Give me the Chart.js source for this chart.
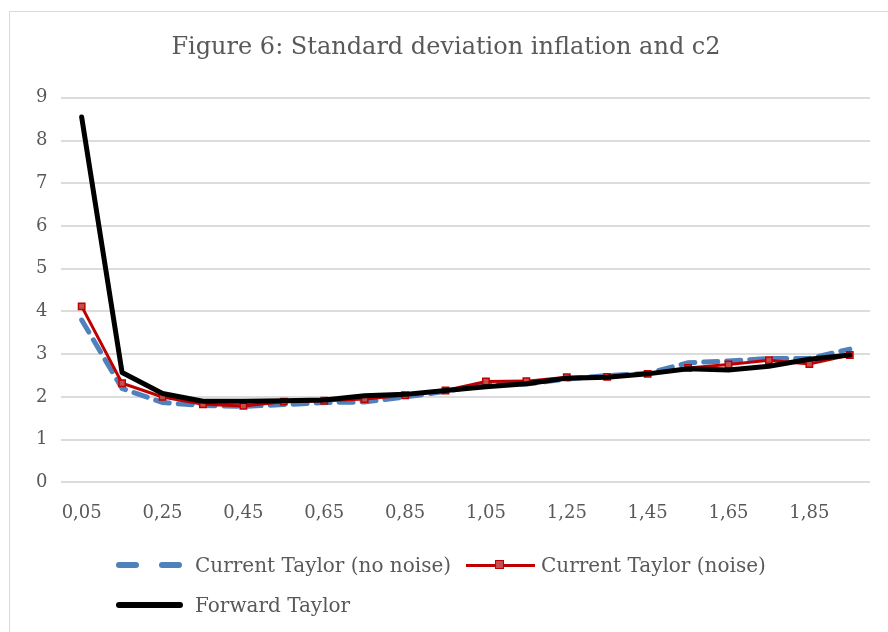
<!DOCTYPE html>
<html>
<head>
<meta charset="utf-8">
<script src="https://cdn.jsdelivr.net/npm/chart.js@4.4.1/dist/chart.umd.min.js"></script>
<style>
  html, body { margin: 0; padding: 0; background: #fff; overflow: hidden; }
  #wrap { position: relative; width: 888px; height: 632px; }
  #frame { position: absolute; left: 9px; top: 11px; width: 920px; height: 700px; border: 1px solid #d9d9d9; box-sizing: border-box; }
  #myChart { position: absolute; left: 0; top: 0; }
  .leg { position: absolute; font-family: "DejaVu Serif", serif; font-size: 20px; color: #595959; line-height: 24px; white-space: nowrap; }
  .sw { position: absolute; }
</style>
</head>
<body>
<div id="wrap">
  <div id="frame"></div>
  <canvas id="myChart" width="888" height="632"></canvas>
  <div id="legend"></div>
</div>
<script>
const categories = ['0,05','0,15','0,25','0,35','0,45','0,55','0,65','0,75','0,85','0,95',
                    '1,05','1,15','1,25','1,35','1,45','1,55','1,65','1,75','1,85','1,95'];
const noNoise = [3.80, 2.20, 1.87, 1.80, 1.78, 1.82, 1.87, 1.88, 2.00, 2.13,
                 2.30, 2.30, 2.42, 2.50, 2.55, 2.80, 2.84, 2.90, 2.90, 3.12];
const noise   = [4.12, 2.32, 2.00, 1.83, 1.79, 1.89, 1.91, 1.95, 2.04, 2.15,
                 2.36, 2.37, 2.46, 2.47, 2.54, 2.68, 2.76, 2.86, 2.77, 2.98];
const forward = [8.55, 2.57, 2.08, 1.90, 1.90, 1.91, 1.93, 2.03, 2.06, 2.15,
                 2.24, 2.31, 2.44, 2.46, 2.54, 2.66, 2.63, 2.72, 2.88, 2.98];
const seriesNames = ['Current Taylor (no noise)', 'Current Taylor (noise)', 'Forward Taylor'];
const yTicks = [0, 1, 2, 3, 4, 5, 6, 7, 8, 9];

const textColor = '#595959';
const font = 'DejaVu Serif';

var ctx = document.getElementById('myChart');

var myChart = new Chart(ctx, {
  type: 'line',
  data: {
    labels: categories,
    datasets: [
      {
        label: seriesNames[0],
        data: noNoise,
        borderColor: '#4F81BD',
        borderWidth: 5,
        borderDash: [14, 9],
        borderCapStyle: 'round',
        pointRadius: 0,
        tension: 0,
        order: 2
      },
      {
        label: seriesNames[1],
        data: noise,
        borderColor: '#C00000',
        borderWidth: 3,
        pointStyle: 'rect',
        pointRadius: 4.5,
        pointBorderWidth: 1.5,
        pointBorderColor: '#C00000',
        pointBackgroundColor: '#C0504D',
        tension: 0,
        order: 1
      },
      {
        label: seriesNames[2],
        data: forward,
        borderColor: '#000000',
        borderWidth: 5,
        borderCapStyle: 'round',
        borderJoinStyle: 'round',
        pointRadius: 0,
        tension: 0,
        order: 0
      }
    ]
  },
  options: {
    responsive: false,
    animation: false,
    layout: { padding: { left: 22, right: 18, top: 0, bottom: 88 } },
    plugins: {
      legend: { display: false },
      tooltip: { enabled: false },
      title: {
        display: true,
        text: 'Figure 6: Standard deviation inflation and c2',
        color: textColor,
        font: { family: font, size: 24, weight: 'normal' },
        padding: { top: 33, bottom: 36 }
      }
    },
    scales: {
      x: {
        offset: true,
        grid: { display: false, drawTicks: false },
        border: { display: false },
        ticks: {
          autoSkip: false,
          maxRotation: 0,
          padding: 20,
          color: textColor,
          font: { family: font, size: 18 },
          callback: function (v, i) { return i % 2 === 0 ? categories[i] : ''; }
        }
      },
      y: {
        min: yTicks[0],
        max: yTicks[yTicks.length - 1],
        afterBuildTicks: function (axis) { axis.ticks = yTicks.map(v => ({ value: v })); },
        grid: { color: '#dcdcdc', lineWidth: 2, drawTicks: false },
        border: { display: false },
        ticks: {
          padding: 14,
          color: textColor,
          font: { family: font, size: 18 }
        }
      }
    }
  }
});

// legend in two rows, left aligned like the original
var leg = document.getElementById('legend');
function add(html) { leg.insertAdjacentHTML('beforeend', html); }
// row 1
add('<div class="sw" style="left:116px;top:562px;width:23px;height:6px;border-radius:3px;background:#4F81BD"></div>');
add('<div class="sw" style="left:159px;top:562px;width:23px;height:6px;border-radius:3px;background:#4F81BD"></div>');
add('<div class="leg" style="left:195px;top:553px">' + seriesNames[0] + '</div>');
add('<div class="sw" style="left:466px;top:564px;width:69px;height:3px;background:#C00000"></div>');
add('<div class="sw" style="left:495px;top:560px;width:9px;height:9px;box-sizing:border-box;border:1.5px solid #C00000;background:#C0504D"></div>');
add('<div class="leg" style="left:541px;top:553px">' + seriesNames[1] + '</div>');
// row 2
add('<div class="sw" style="left:116px;top:602px;width:67px;height:6px;border-radius:3px;background:#000"></div>');
add('<div class="leg" style="left:195px;top:593px">' + seriesNames[2] + '</div>');
</script>
</body>
</html>
